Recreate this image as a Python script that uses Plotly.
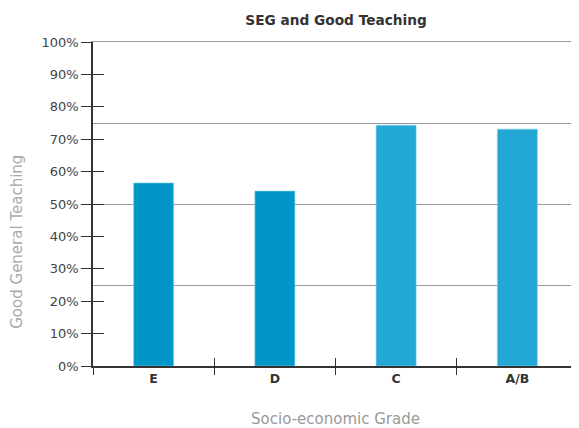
import plotly.graph_objects as go

categories = ["E", "D", "C", "A/B"]
values = [56.5, 54.0, 74.3, 73.1]
bar_colors = ["#0096C8", "#0096C8", "#23A8D5", "#23A8D5"]
y_tick_values = [0, 10, 20, 30, 40, 50, 60, 70, 80, 90, 100]
y_tick_labels = [f"{v}%" for v in y_tick_values]
grid_values = [25, 50, 75, 100]

FONT = "DejaVu Sans"

fig = go.Figure()
# invisible helpers so overlay axes get drawn with the same categories/range
for xa, ya in [("x2", "y"), ("x3", "y"), ("x4", "y"), ("x", "y2"), ("x", "y3")]:
    fig.add_trace(go.Scatter(x=categories, y=values, mode="markers",
                             marker=dict(opacity=0), hoverinfo="skip",
                             showlegend=False, xaxis=xa, yaxis=ya))
fig.add_trace(go.Bar(
    x=categories, y=values, width=0.33,
    marker=dict(color=bar_colors, line=dict(color="#7FD3EE", width=0.6)),
    hoverinfo="skip", showlegend=False, xaxis="x", yaxis="y",
))

common_x = dict(type="category", categoryorder="array", categoryarray=categories,
                range=[-0.5, 3.5], automargin=False)
common_y = dict(range=[0, 100], automargin=False, zeroline=False)

fig.update_layout(
    width=571, height=420,
    margin=dict(l=85, r=1, t=34, b=62),
    paper_bgcolor="white", plot_bgcolor="white",
    title=dict(text="<b>SEG and Good Teaching</b>", x=0.5745, xanchor="center",
               y=0.971, yanchor="middle",
               font=dict(family=FONT, size=13.7, color="#333333")),
    xaxis=dict(**common_x, showline=True, linecolor="#333333", linewidth=1.5,
               ticks="", showgrid=False, zeroline=False,
               tickfont=dict(family=FONT, size=12.5, color="#333333", weight="bold"),
               title=dict(text="Socio-economic Grade", standoff=29,
                          font=dict(family=FONT, size=15, color="#999999"))),
    xaxis2=dict(**common_x, overlaying="x", showticklabels=False,
                ticks="outside", tickson="boundaries", ticklen=8, tickwidth=1.3,
                tickcolor="#333333", showgrid=False, zeroline=False, showline=False),
    xaxis3=dict(**common_x, overlaying="x", showticklabels=False,
                ticks="inside", tickson="boundaries", ticklen=8, tickwidth=1.3,
                tickcolor="#333333", showgrid=False, zeroline=False, showline=False),
    xaxis4=dict(**common_x, overlaying="x", side="top", showticklabels=False,
                ticks="", showgrid=False, zeroline=False, showline=True,
                linecolor="#9a9a9a", linewidth=1.2),
    yaxis=dict(**common_y, tickvals=y_tick_values, ticktext=y_tick_labels,
               ticks="outside", ticklen=10, tickwidth=1.3, tickcolor="#333333",
               showline=True, linecolor="#333333", linewidth=1.5, showgrid=False,
               tickfont=dict(family=FONT, size=13, color="#444444")),
    yaxis2=dict(**common_y, overlaying="y", tickvals=y_tick_values,
                showticklabels=False, ticks="inside", ticklen=11, tickwidth=1.3,
                tickcolor="#333333", showgrid=False, showline=False),
    yaxis3=dict(**common_y, overlaying="y", side="right", tickvals=grid_values,
                showticklabels=False, ticks="", showgrid=True, gridcolor="#9a9a9a",
                gridwidth=1.2, showline=True, linecolor="#9a9a9a", linewidth=1),
    annotations=[dict(text="Good General Teaching", textangle=-90,
                      xref="paper", yref="paper", x=-0.157, y=0.383,
                      xanchor="center", yanchor="middle", showarrow=False,
                      font=dict(family=FONT, size=15, color="#aaaaaa"))],
)
fig.write_html("out.html")
